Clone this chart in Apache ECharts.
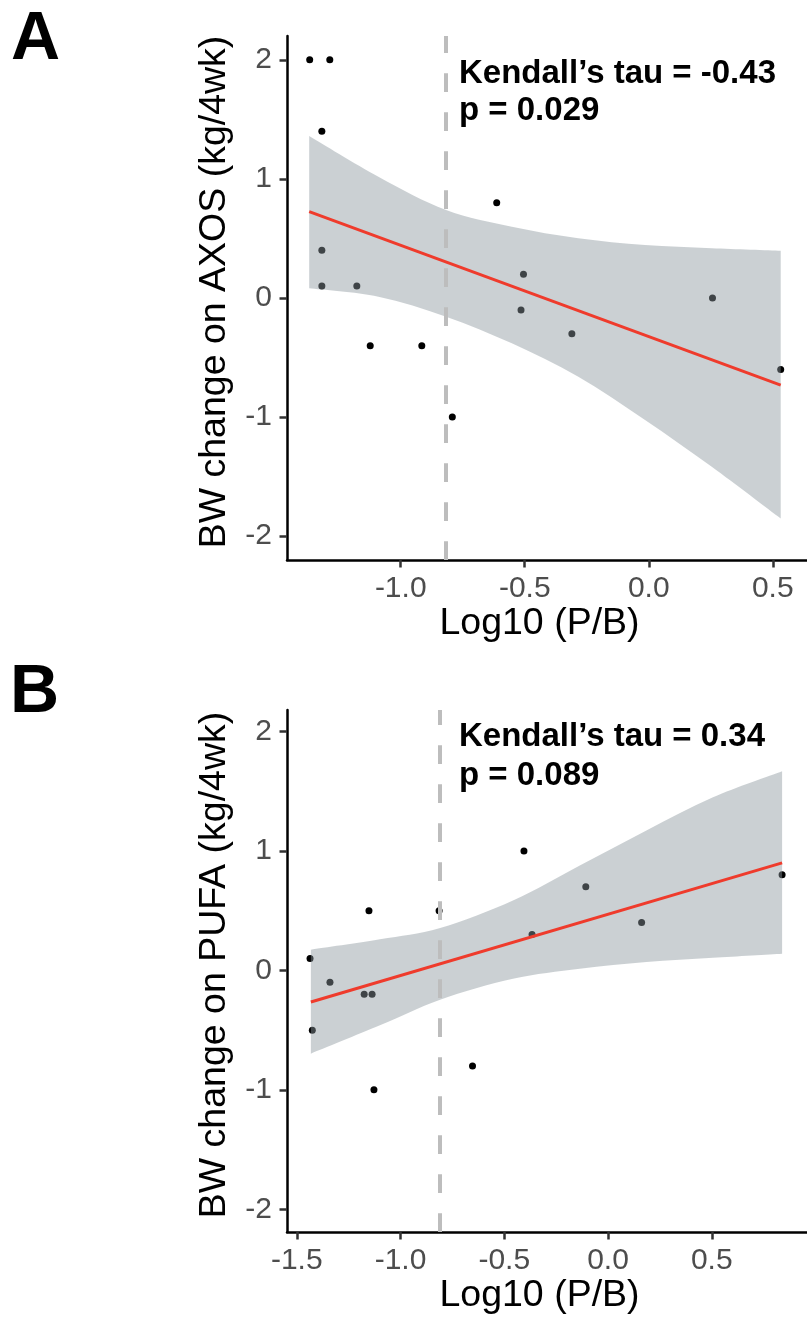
<!DOCTYPE html>
<html>
<head>
<meta charset="utf-8">
<title>BW change vs Log10 (P/B)</title>
<script src="https://cdn.jsdelivr.net/npm/echarts@6/dist/echarts.min.js"></script>
<style>
  html, body { margin: 0; padding: 0; background: #fff; }
  #main { width: 807px; height: 1325px; }
</style>
</head>
<body>
<div id="main"></div>
<script>
var FONT = '"Liberation Sans", Arial, sans-serif';

// ---- panel A : AXOS ----
var xA = [-1.367, -1.286, -1.318, -0.613, -1.318, -0.505, -1.318, -1.177, -0.515, 0.257, -0.31, -1.123, -0.915, -0.792, 0.532];
var yA = [2.0, 2.0, 1.4, 0.8, 0.4, 0.2, 0.1, 0.1, -0.1, 0.0, -0.3, -0.4, -0.4, -1.0, -0.6];
var fitXA = [-1.369, 0.532];
var fitYA = [0.725, -0.731];
var bandXA = [-1.369, -1.09, -0.817, -0.552, -0.284, -0.015, 0.254, 0.532];
var bandUpA = [1.361, 1.019, 0.739, 0.599, 0.502, 0.445, 0.418, 0.397];
var bandLoA = [0.081, 0.011, -0.157, -0.381, -0.661, -1.025, -1.418, -1.852];
var cutA = -0.817;
var statA = ['Kendall\u2019s tau = -0.43', 'p = 0.029'];

// ---- panel B : PUFA ----
var xB = [-0.405, -0.107, -1.152, -0.814, 0.162, -0.366, 0.839, -1.436, -1.34, -1.175, -1.137, -1.425, -0.653, -1.128];
var yB = [1.0, 0.7, 0.5, 0.5, 0.4, 0.3, 0.8, 0.1, -0.1, -0.2, -0.2, -0.5, -0.8, -1.0];
var fitXB = [-1.432, 0.839];
var fitYB = [-0.265, 0.9];
var bandXB = [-1.432, -1.099, -0.809, -0.458, -0.136, 0.185, 0.506, 0.839];
var bandUpB = [0.173, 0.26, 0.355, 0.586, 0.879, 1.172, 1.45, 1.668];
var bandLoB = [-0.697, -0.46, -0.245, -0.07, 0.014, 0.07, 0.106, 0.14];
var cutB = -0.809;
var statB = ['Kendall\u2019s tau = 0.34', 'p = 0.089'];

var xTicksA = [-1.0, -0.5, 0.0, 0.5];
var xTicksB = [-1.5, -1.0, -0.5, 0.0, 0.5];
var yTicks = [-2, -1, 0, 1, 2];

function pairs(xs, ys) {
  return xs.map(function (x, i) { return [x, ys[i]]; });
}

// catmull-rom through pixel points -> svg cubic segments
function curveThrough(p) {
  var d = '';
  for (var i = 0; i < p.length - 1; i++) {
    var p0 = p[Math.max(i - 1, 0)], p1 = p[i], p2 = p[i + 1], p3 = p[Math.min(i + 2, p.length - 1)];
    var c1 = [p1[0] + (p2[0] - p0[0]) / 6, p1[1] + (p2[1] - p0[1]) / 6];
    var c2 = [p2[0] - (p3[0] - p1[0]) / 6, p2[1] - (p3[1] - p1[1]) / 6];
    d += ' C' + c1[0] + ',' + c1[1] + ' ' + c2[0] + ',' + c2[1] + ' ' + p2[0] + ',' + p2[1];
  }
  return d;
}

function xAxisCfg(idx, min, max, ticks) {
  return {
    type: 'value', gridIndex: idx, min: min, max: max,
    name: 'Log10 (P/B)', nameLocation: 'middle', nameGap: 38,
    nameTextStyle: { fontSize: 37.5, color: '#000', fontFamily: FONT, padding: [0, 15, 0, 0] },
    axisLine: { onZero: false, lineStyle: { color: '#000', width: 2.5 } },
    axisTick: { show: true, length: 7.5, customValues: ticks, lineStyle: { color: '#333', width: 2.5 } },
    axisLabel: { fontSize: 30, color: '#4d4d4d', fontFamily: FONT, margin: 14, customValues: ticks,
      formatter: function (v) { return v.toFixed(1); } },
    splitLine: { show: false }
  };
}

function yAxisCfg(idx, min, max, name) {
  return {
    type: 'value', gridIndex: idx, min: min, max: max,
    name: name, nameLocation: 'middle', nameGap: 53,
    nameTextStyle: { fontSize: 37.5, color: '#000', fontFamily: FONT, padding: [0, 0, 0, 12] },
    axisLine: { onZero: false, lineStyle: { color: '#000', width: 2.5 } },
    axisTick: { show: true, length: 7.5, customValues: yTicks, lineStyle: { color: '#333', width: 2.5 } },
    axisLabel: { fontSize: 30, color: '#4d4d4d', fontFamily: FONT, margin: 15, customValues: yTicks,
      formatter: function (v) { return String(Math.round(v)); } },
    splitLine: { show: false }
  };
}

function panelSeries(idx, xs, ys, fx, fy, bx, up, lo, cut) {
  return [
    { // points
      type: 'scatter', xAxisIndex: idx, yAxisIndex: idx, z: 2,
      symbolSize: 7, itemStyle: { color: '#000', opacity: 1 },
      data: pairs(xs, ys)
    },
    { // threshold
      type: 'line', xAxisIndex: idx, yAxisIndex: idx, z: 3, data: [],
      markLine: {
        silent: true, symbol: 'none', label: { show: false }, animation: false,
        lineStyle: { color: '#bdbdbd', width: 4, type: [18.7, 20.3] },
        data: [{ xAxis: cut }]
      }
    },
    { // confidence band
      type: 'custom', xAxisIndex: idx, yAxisIndex: idx, z: 4, silent: true,
      data: [[bx[0], up[0]]],
      renderItem: function (params, api) {
        var top = [], bot = [];
        for (var i = 0; i < bx.length; i++) top.push(api.coord([bx[i], up[i]]));
        for (var j = bx.length - 1; j >= 0; j--) bot.push(api.coord([bx[j], lo[j]]));
        var d = 'M' + top[0][0] + ',' + top[0][1] + curveThrough(top) +
          ' L' + bot[0][0] + ',' + bot[0][1] + curveThrough(bot) + ' Z';
        return { type: 'path', shape: { pathData: d }, style: { fill: 'rgba(140,150,158,0.45)' } };
      }
    },
    { // fit
      type: 'line', xAxisIndex: idx, yAxisIndex: idx, z: 5,
      showSymbol: false, symbol: 'none',
      lineStyle: { color: '#ef3b2c', width: 3 },
      data: pairs(fx, fy)
    }
  ];
}

function statText(lines, top) {
  return lines.map(function (t, i) {
    return {
      type: 'text', left: 459, top: top[i],
      style: { text: t, font: 'bold 33px ' + FONT, fill: '#000' }
    };
  });
}

var chart = echarts.init(document.getElementById('main'), null, { renderer: 'canvas' });
chart.setOption({
  animation: false,
  backgroundColor: '#fff',
  grid: [
    { left: 287, top: 36, width: 520, height: 524, containLabel: false, outerBoundsMode: 'none' },
    { left: 287, top: 710, width: 520, height: 522, containLabel: false, outerBoundsMode: 'none' }
  ],
  xAxis: [
    xAxisCfg(0, -1.4585, 0.638, xTicksA),
    xAxisCfg(1, -1.547, 0.959, xTicksB)
  ],
  yAxis: [
    yAxisCfg(0, -2.2, 2.2, 'BW change on AXOS (kg/4wk)'),
    yAxisCfg(1, -2.19, 2.18, 'BW change on PUFA (kg/4wk)')
  ],
  series: panelSeries(0, xA, yA, fitXA, fitYA, bandXA, bandUpA, bandLoA, cutA)
    .concat(panelSeries(1, xB, yB, fitXB, fitYB, bandXB, bandUpB, bandLoB, cutB)),
  graphic: [
    { type: 'text', left: 11, top: 6, style: { text: 'A', font: 'bold 68px ' + FONT, fill: '#000' } },
    { type: 'text', left: 10, top: 659, style: { text: 'B', font: 'bold 68px ' + FONT, fill: '#000' } }
  ].concat(statText(statA, [57, 94])).concat(statText(statB, [720, 759]))
});
</script>
</body>
</html>
